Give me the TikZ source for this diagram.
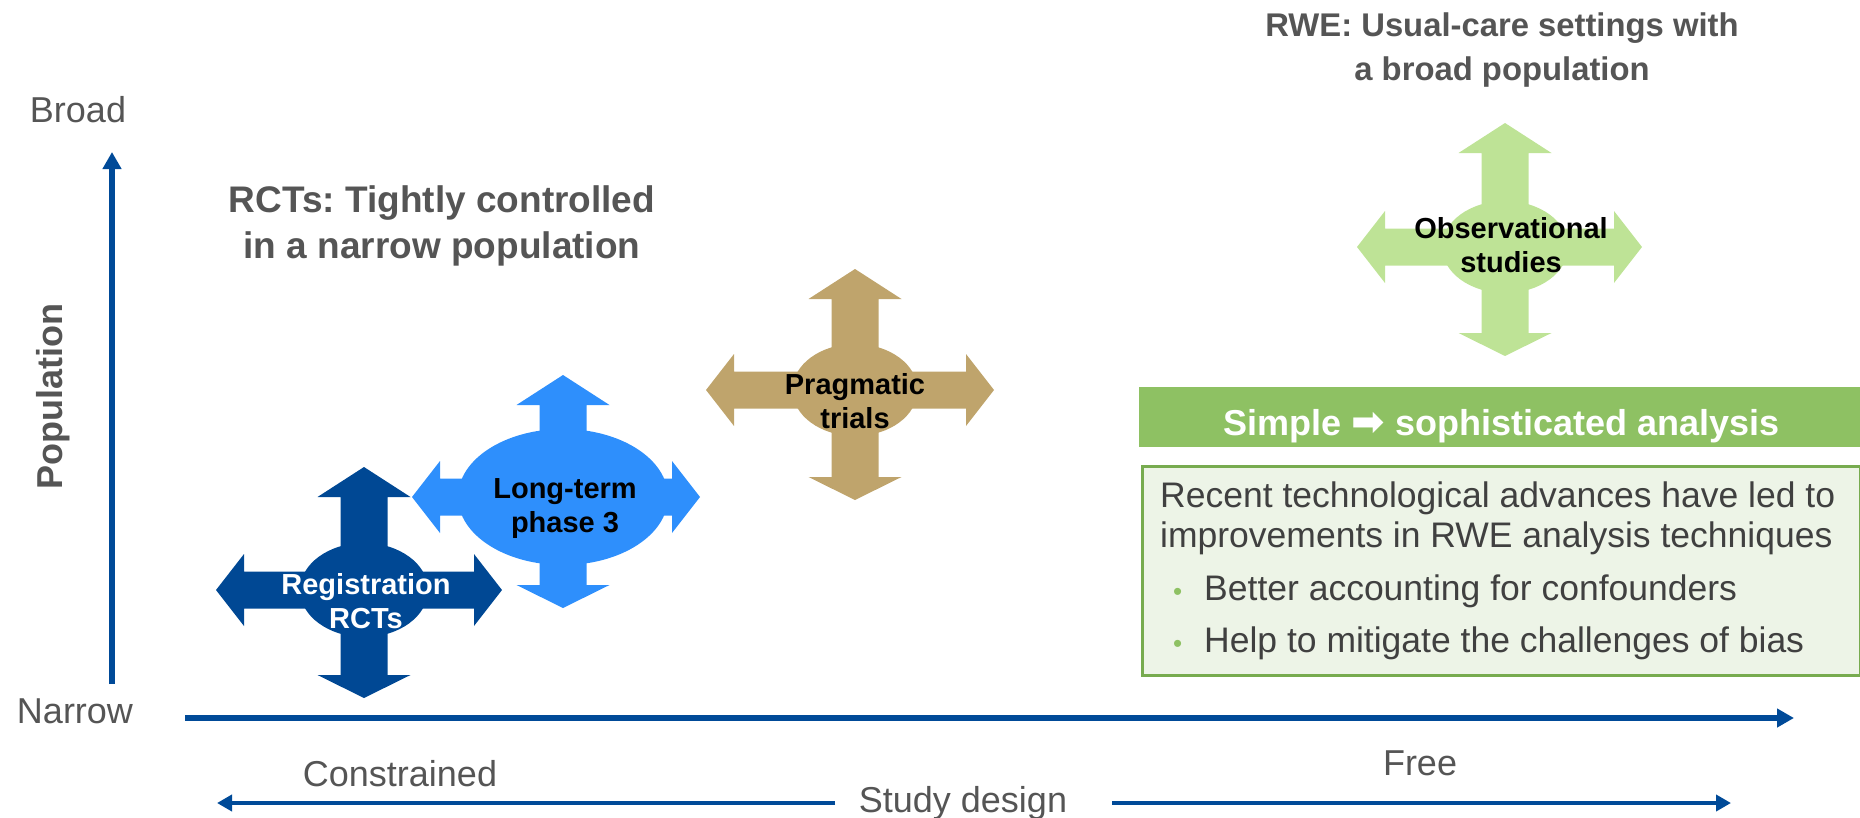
\documentclass[tikz,border=0pt]{standalone}
\usepackage{fontspec}
\setmainfont{Liberation Sans}
\newfontfamily\symfont{DejaVu Sans}
\usetikzlibrary{arrows.meta}
\frenchspacing

\definecolor{axisblue}{RGB}{0,74,152}
\definecolor{regblue}{RGB}{0,72,148}
\definecolor{ltblue}{RGB}{46,143,252}
\definecolor{pragtan}{RGB}{191,164,108}
\definecolor{obsgreen}{RGB}{190,227,150}
\definecolor{headgreen}{RGB}{142,193,99}
\definecolor{boxfill}{RGB}{237,244,231}
\definecolor{boxline}{RGB}{119,171,79}
\definecolor{txtgray}{RGB}{85,85,85}
\definecolor{bodygray}{RGB}{64,64,64}

% Four-way arrow: #1,#2 centre; #3 left, #4 right, #5 top, #6 bottom reach;
% #7,#8 ellipse radii; #9 fill colour
\newcommand\fourway[9]{%
  \begin{scope}[shift={(#1,#2)}]
    \fill[#9] (-#3,0) -- (-#3+28,-36) -- (-#3+28,-18.5) -- (#4-28,-18.5)
      -- (#4-28,-36) -- (#4,0) -- (#4-28,36) -- (#4-28,18.5)
      -- (-#3+28,18.5) -- (-#3+28,36) -- cycle;
    \fill[#9] (0,-#5) -- (46.5,-#5+30) -- (23.5,-#5+30) -- (23.5,#6-23)
      -- (46.5,#6-23) -- (0,#6) -- (-46.5,#6-23) -- (-23.5,#6-23)
      -- (-23.5,-#5+30) -- (-46.5,-#5+30) -- cycle;
    \fill[#9] (0,0) ellipse [x radius=#7pt, y radius=#8pt];
  \end{scope}}

\begin{document}
\begin{tikzpicture}[x=1pt,y=-1pt,
  axislabel/.style={text=txtgray, font=\fontsize{36}{42}\selectfont, inner sep=0pt},
  headline/.style={text=txtgray, font=\bfseries\fontsize{37}{46}\selectfont,
    align=center, inner sep=0pt},
  crosslabel/.style={font=\bfseries\fontsize{29}{34}\selectfont, align=center,
    inner sep=0pt},
  axisline/.style={draw=axisblue, line width=6.5pt,
    -{Triangle[width=18pt,length=17pt]}},
  designline/.style={draw=axisblue, line width=4.3pt,
    -{Triangle[width=16pt,length=15pt]}},
]
\useasboundingbox (0,0) rectangle (1860,817);

% axes
\coordinate (yfoot) at (112,684);
\coordinate (ytip) at (112,152);
\draw[axisline] (yfoot) -- (ytip);
\coordinate (xfoot) at (185,718);
\coordinate (xtip) at (1794,718);
\draw[axisline, line width=6pt] (xfoot) -- (xtip);

% axis labels
\node[axislabel, anchor=base] (broad) at (78,122) {Broad};
\node[axislabel, anchor=base] (narrow) at (75,723) {Narrow};
\node[axislabel, anchor=base, font=\bfseries\fontsize{36}{42}\selectfont,
  rotate=90] (population) at (62,397) {Population};
\node[axislabel, anchor=base] (constrained) at (400,786) {Constrained};
\node[axislabel, anchor=base] (free) at (1420,775) {Free};
\node[axislabel, anchor=base] (design) at (963,812) {Study design};

% study design double arrow
\coordinate (dleftstart) at (835,803);
\coordinate (dleft) at (217,803);
\coordinate (drightstart) at (1112,803);
\coordinate (dright) at (1731,803);
\draw[designline] (dleftstart) -- (dleft);
\draw[designline] (drightstart) -- (dright);

% study types
\fourway{563}{497}{151}{137}{122}{111}{105}{68}{ltblue}
\fourway{364}{590}{148}{138}{123}{108}{64}{47}{regblue}
\fourway{855}{390}{149}{139}{121}{110}{62.5}{46}{pragtan}
\fourway{1505}{247}{148}{137}{124}{109}{63}{46}{obsgreen}

% labels: the base anchor sits on the last line
\node[crosslabel, anchor=base, text=white] (reg) at (366,628) {Registration\\RCTs};
\node[crosslabel, anchor=base] (longterm) at (565,532) {Long-term\\phase 3};
\node[crosslabel, anchor=base] (prag) at (855,428) {Pragmatic\\trials};
\node[crosslabel, anchor=base] (obs) at (1511,272) {Observational\\studies};

% headlines
\node[headline, anchor=base] (rcts) at (442,258)
  {RCTs: Tightly controlled\\in a narrow population};
\node[headline, anchor=base, font=\bfseries\fontsize{32.8}{44}\selectfont] (rwe)
  at (1502,80) {RWE: Usual-care settings with\\a broad population};

% analysis panel
\node[fill=headgreen, anchor=north west, minimum width=725pt, minimum height=60pt,
  inner sep=0pt, text height=36pt, text depth=0pt, text=white,
  font=\bfseries\fontsize{36}{42}\selectfont] (header) at (1139,387)
  {Simple {\symfont\fontsize{40}{40}\selectfont ➡} sophisticated analysis};
\node[draw=boxline, line width=3pt, fill=boxfill, anchor=north west,
  minimum width=718pt, minimum height=209pt, inner sep=0pt] (textbox)
  at (1140.5,464.5) {};
\node[anchor=base west, align=left, inner sep=0pt, text=bodygray,
  font=\fontsize{35.5}{40}\selectfont] (bodytext) at (1160,652)
  {Recent technological advances have led to\\
   improvements in RWE analysis techniques\\[13pt]
   \hspace*{13pt}\makebox[31pt][l]{\textcolor{headgreen}{\fontsize{26}{26}\selectfont •}}Better accounting for confounders\\[12pt]
   \hspace*{13pt}\makebox[31pt][l]{\textcolor{headgreen}{\fontsize{26}{26}\selectfont •}}Help to mitigate the challenges of bias};
\end{tikzpicture}
\end{document}
